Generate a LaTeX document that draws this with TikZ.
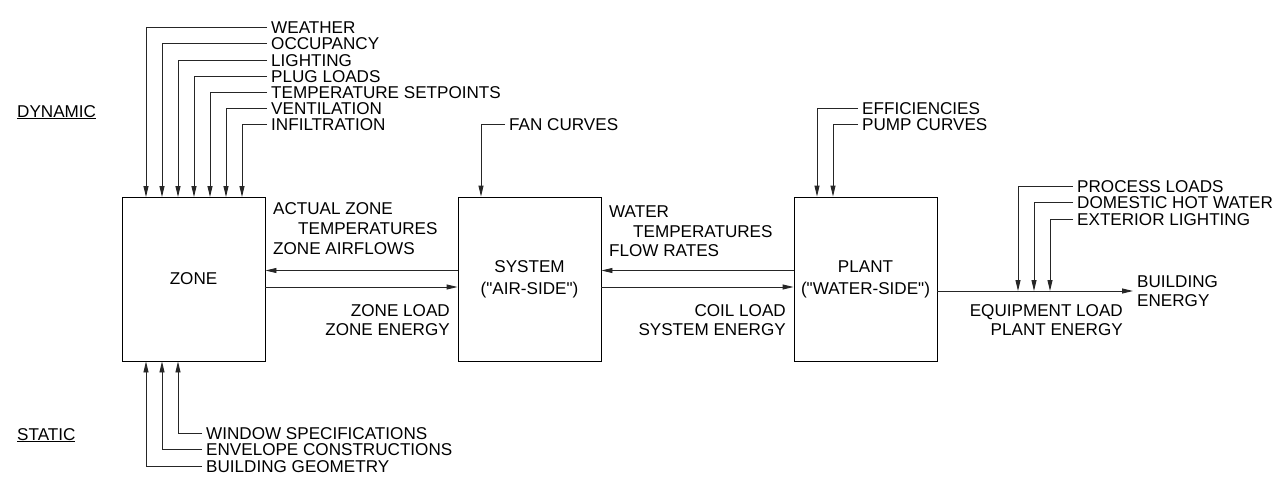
\documentclass[tikz,border=0pt]{standalone}
\usepackage{fontspec}
\setmainfont{Liberation Sans}
\usetikzlibrary{arrows.meta}
\begin{document}
\begin{tikzpicture}[x=1pt,y=-1pt,
  every node/.style={font=\fontsize{17.1}{16}\selectfont},
  lbl/.style={anchor=west,inner xsep=4pt,inner ysep=0pt,text height=12.2pt,text depth=0pt},
  rlbl/.style={anchor=east,inner xsep=0pt,inner ysep=0pt,text height=12.2pt,text depth=0pt},
  blk/.style={draw,line width=0.9pt,minimum width=143pt,minimum height=164pt,align=center,inner sep=0pt,
    font=\fontsize{17.1}{22}\selectfont},
  ln/.style={line width=0.9pt,draw=black!85},
  arr/.style={ln,-{Triangle[length=11pt,width=5pt]}}]
\useasboundingbox (0,0) rectangle (1288,492);
% blocks
\node[blk] (zone) at (193.5,279) {ZONE};
\node[blk] (sys) at (529.5,279) {SYSTEM\\(\textquotedbl AIR-SIDE\textquotedbl)};
\node[blk] (plant) at (865.5,279) {PLANT\\(\textquotedbl WATER-SIDE\textquotedbl)};
% side labels
\node[lbl,inner xsep=0pt] (dyn) at (17,111) {\underline{DYNAMIC}};
\node[lbl,inner xsep=0pt] (stat) at (17,434) {\underline{STATIC}};
% dynamic zone inputs
\foreach \n/\t/\y/\x in {wea/WEATHER/27/146, occ/OCCUPANCY/43.5/162, lig/LIGHTING/60/178,
   plug/PLUG LOADS/76/194, tsp/TEMPERATURE SETPOINTS/92/210, ven/VENTILATION/108/226, inf/INFILTRATION/124.5/242}{
  \node[lbl] (\n) at (267,\y) {\t};
  \draw[arr] (\n.west) -| (\x,197);
}
% fan curves
\node[lbl] (fan) at (505,124.5) {FAN CURVES};
\draw[arr] (fan.west) -| (sys.north -| 481,0);
% plant inputs
\node[lbl] (eff) at (858,108) {EFFICIENCIES};
\node[lbl] (pump) at (858,124.5) {PUMP CURVES};
\draw[arr] (eff.west) -| (plant.north -| 817,0);
\draw[arr] (pump.west) -| (plant.north -| 833,0);
% static inputs
\foreach \n/\t/\y/\x in {win/WINDOW SPECIFICATIONS/433.5/178, env/ENVELOPE CONSTRUCTIONS/449.5/162, geo/BUILDING GEOMETRY/466/146}{
  \node[lbl] (\n) at (202,\y) {\t};
  \draw[arr] (\n.west) -| (zone.south -| \x,0);
}
% zone <-> system
\draw[arr] (sys.west |- 0,270.5) -- (zone.east |- 0,270.5);
\draw[arr] (zone.east |- 0,287) -- (sys.west |- 0,287);
\node[lbl,inner xsep=0pt] (az1) at (273,208.5) {ACTUAL ZONE};
\node[lbl,inner xsep=0pt] (az2) at (298,228.5) {TEMPERATURES};
\node[lbl,inner xsep=0pt] (az3) at (273,248.5) {ZONE AIRFLOWS};
\node[rlbl] (zl1) at (450,310) {ZONE LOAD};
\node[rlbl] (zl2) at (450,329.5) {ZONE ENERGY};
% system <-> plant
\draw[arr] (plant.west |- 0,270.5) -- (sys.east |- 0,270.5);
\draw[arr] (sys.east |- 0,287) -- (plant.west |- 0,287);
\node[lbl,inner xsep=0pt] (wt1) at (609,211) {WATER};
\node[lbl,inner xsep=0pt] (wt2) at (633,231) {TEMPERATURES};
\node[lbl,inner xsep=0pt] (wt3) at (609,250.5) {FLOW RATES};
\node[rlbl] (cl1) at (786,310) {COIL LOAD};
\node[rlbl] (cl2) at (786,329.5) {SYSTEM ENERGY};
% plant -> building energy
\coordinate (be) at (1133,291);
\draw[arr] (plant.east |- be) -- (be);
\node[lbl,inner xsep=0pt] (bld1) at (1137,281) {BUILDING};
\node[lbl,inner xsep=0pt] (bld2) at (1137,300.5) {ENERGY};
\node[rlbl] (eq1) at (1123,310) {EQUIPMENT LOAD};
\node[rlbl] (eq2) at (1123,329.5) {PLANT ENERGY};
\foreach \n/\t/\y/\x in {proc/PROCESS LOADS/186/1018, dhw/DOMESTIC HOT WATER/202.5/1034, ext/EXTERIOR LIGHTING/219/1050}{
  \node[lbl] (\n) at (1073,\y) {\t};
  \draw[arr] (\n.west) -| (\x,291);
}
\end{tikzpicture}
\end{document}
